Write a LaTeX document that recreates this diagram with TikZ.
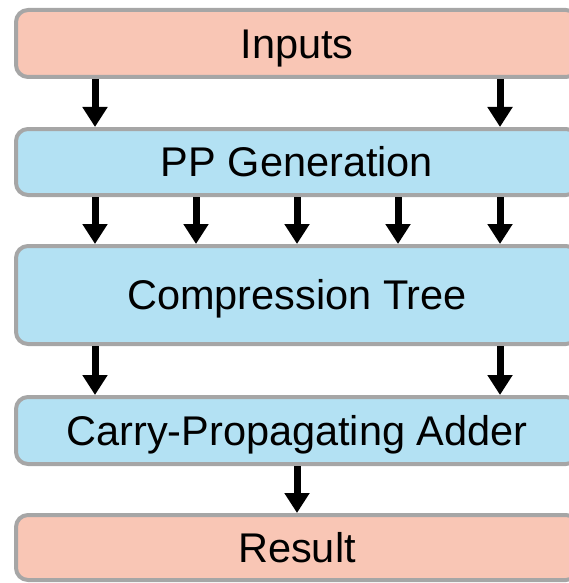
\documentclass[tikz,border=0pt]{standalone}
\usepackage{fontspec}
\setmainfont{Liberation Sans}
\usetikzlibrary{arrows.meta}
\definecolor{stagepink}{HTML}{F9C6B5}
\definecolor{stageblue}{HTML}{B3E1F3}
\definecolor{stageedge}{HTML}{A6A6A6}
\tikzset{
  stagebox/.style={draw=stageedge, line width=4pt, rounded corners=12pt,
    minimum width=562pt, inner sep=0pt, outer sep=0pt,
    font=\fontsize{41.5}{50}\selectfont, text height=29.7pt, text depth=0pt},
  ioblock/.style={stagebox, fill=stagepink},
  unitblock/.style={stagebox, fill=stageblue},
  flow/.style={line width=7pt, shorten <=2pt, shorten >=2pt,
    -{Triangle[width=24pt,length=20pt]}}
}
\begin{document}
\begin{tikzpicture}[x=1pt, y=-1pt]
  \useasboundingbox (0,0) rectangle (569,583);
  \clip (0,0) rectangle (569,583);
  % pipeline stages
  \node[ioblock,   minimum height=67pt] (inputs) at (297,43.5)  {Inputs};
  \node[unitblock, minimum height=66pt] (ppgen)  at (297,162)   {PP Generation};
  \node[unitblock, minimum height=98pt] (tree)   at (297,295)   {Compression Tree};
  \node[unitblock, minimum height=67pt] (cpa)    at (297,430.5) {Carry-Propagating Adder};
  \node[ioblock,   minimum height=65pt] (result) at (297,547.5) {Result};
  % data flow between stages
  \foreach \dx in {-202,203}
    \draw[flow] ([xshift=\dx pt]inputs.south) -- ([xshift=\dx pt]ppgen.north);
  \foreach \dx in {-202,-101,0,101,203}
    \draw[flow] ([xshift=\dx pt]ppgen.south) -- ([xshift=\dx pt]tree.north);
  \foreach \dx in {-202,203}
    \draw[flow] ([xshift=\dx pt]tree.south) -- ([xshift=\dx pt]cpa.north);
  \draw[flow] (cpa.south) -- (result.north);
\end{tikzpicture}
\end{document}
